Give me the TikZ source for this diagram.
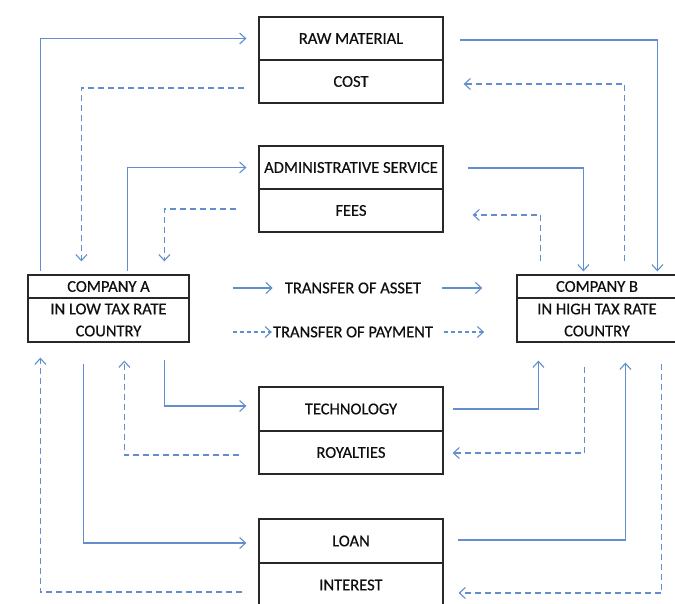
\documentclass[tikz,border=0pt]{standalone}
\usepackage{fontspec}
\setmainfont{Carlito}[FakeBold=0.5]
\usetikzlibrary{arrows.meta}
\definecolor{flowblue}{RGB}{98,142,207}
\definecolor{boxline}{RGB}{40,40,40}
\definecolor{txt}{RGB}{15,15,15}
\tikzset{
  cell/.style={draw=boxline, line width=1.2pt, minimum width=184pt, minimum height=43pt,
    inner sep=0pt, font=\fontsize{16.5}{20}\selectfont, text=txt, anchor=center},
  headcell/.style={cell, minimum width=161pt, minimum height=23pt},
  bodycell/.style={cell, minimum width=161pt, minimum height=44pt, align=center,
    font=\fontsize{16.5}{22}\selectfont},
  lbl/.style={font=\fontsize{16.5}{20}\selectfont, text=txt, inner sep=0pt},
  flow/.style={draw=flowblue, line width=1.1pt, -{Straight Barb[length=6pt,width=11pt]}},
  pay/.style={flow, dash pattern=on 6pt off 4pt},
  payshort/.style={flow, dash pattern=on 4pt off 3pt},
}
\begin{document}
\begin{tikzpicture}[x=1pt,y=-1pt]
\useasboundingbox[fill=white] (0,0) rectangle (675,604);

% flows of goods and services (top row)
\node[cell] (rm)   at (351,38.5)  {RAW MATERIAL};
\node[cell] (cost) at (351,81.5)  {COST};
\node[cell] (adm)  at (351,167.5) {ADMINISTRATIVE SERVICE};
\node[cell] (fees) at (351,210.5) {FEES};

% the two companies
\node[headcell] (ca)  at (108.5,286.5) {COMPANY A};
\node[bodycell] (cab) at (108.5,320)   {IN LOW TAX RATE\\COUNTRY};
\node[headcell, minimum width=160pt] (cb)  at (597,286.5) {COMPANY B};
\node[bodycell, minimum width=160pt] (cbb) at (597,320)   {IN HIGH TAX RATE\\COUNTRY};

% bottom row
\node[cell, minimum height=44pt] (tech) at (351,409)   {TECHNOLOGY};
\node[cell] (roy)  at (351,452.5) {ROYALTIES};
\node[cell, minimum height=44pt] (loan) at (351,541) {LOAN};
\node[cell, minimum height=44pt] (int)  at (351,585) {INTEREST};

% legend
\node[lbl] (ta) at (353,288) {TRANSFER OF ASSET};
\node[lbl] (tp) at (353,332) {TRANSFER OF PAYMENT};
\draw[flow] ([xshift=-52pt]ta.west) -- ([xshift=-12pt]ta.west);
\draw[flow] ([xshift=21pt]ta.east) -- ([xshift=61pt]ta.east);
\draw[payshort] ([xshift=-40pt]tp.west) -- ([xshift=-1pt]tp.west);
\draw[payshort] ([xshift=11pt]tp.east) -- ([xshift=51pt]tp.east);

% raw material and its cost
\draw[flow] ([shift={(13,-3)}]ca.north west) |- ([xshift=-12pt]rm.west);
\draw[pay]  ([shift={(-14,6.5)}]cost.west) -| ([shift={(54,-13)}]ca.north west);
\draw[flow] ([shift={(16,1.5)}]rm.east) -| ([shift={(141,-3)}]cb.north west);
\draw[pay]  ([shift={(108,-13)}]cb.north west) |- ([shift={(20,2.5)}]cost.east);

% administrative service and its fees
\draw[flow] ([shift={(100,-3)}]ca.north west) |- ([xshift=-12pt]adm.west);
\draw[pay]  ([shift={(-22,-1.5)}]fees.west) -| ([shift={(137,-13)}]ca.north west);
\draw[flow] ([shift={(24,0.5)}]adm.east) -| ([shift={(67,-3)}]cb.north west);
\draw[pay]  ([shift={(24,-13)}]cb.north west) |- ([shift={(29,4.5)}]fees.east);

% technology and its royalties
\draw[flow] ([shift={(137,17)}]cab.south west) |- ([shift={(-12,-3)}]tech.west);
\draw[pay]  ([shift={(-19,2.5)}]roy.west) -| ([shift={(97,18)}]cab.south west);
\draw[flow] ([shift={(9,0)}]tech.east) -| ([shift={(22,18)}]cbb.south west);
\draw[pay]  ([shift={(68,24)}]cbb.south west) |- ([shift={(9,0.5)}]roy.east);

% loan and its interest
\draw[flow] ([shift={(56,21)}]cab.south west) |- ([shift={(-12,2)}]loan.west);
\draw[pay]  ([shift={(-16,7)}]int.west) -| ([shift={(13,15)}]cab.south west);
\draw[flow] ([shift={(14,-1)}]loan.east) -| ([shift={(109,20)}]cbb.south west);
\draw[pay]  ([shift={(145,21)}]cbb.south west) |- ([shift={(15,8)}]int.east);
\end{tikzpicture}
\end{document}
